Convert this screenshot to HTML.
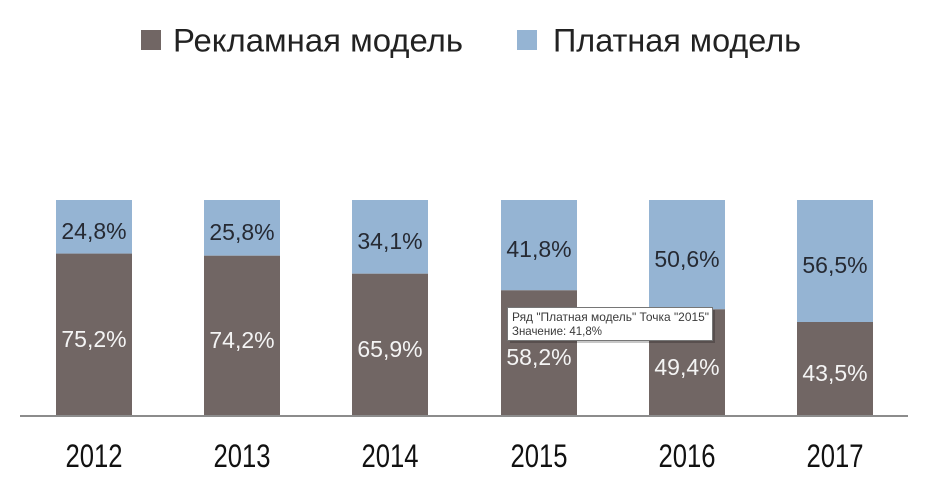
<!DOCTYPE html>
<html><head><meta charset="utf-8"><style>
html,body{margin:0;padding:0;background:#fff;}
svg{display:block;}
</style></head><body>
<svg width="927" height="484" viewBox="0 0 927 484" xmlns="http://www.w3.org/2000/svg" font-family="'Liberation Sans', 'Noto Sans CJK SC', sans-serif">
<rect x="0" y="0" width="927" height="484" fill="#fff"/>
<!-- Legend -->
<rect x="141" y="30" width="20" height="20" fill="#716664"/>
<text x="173" y="51.5" font-size="32" fill="#222" textLength="290" lengthAdjust="spacingAndGlyphs">Рекламная модель</text>
<rect x="517" y="30" width="20" height="20" fill="#95b4d3"/>
<text x="553" y="51.5" font-size="32" fill="#222" textLength="248" lengthAdjust="spacingAndGlyphs">Платная модель</text>

<!-- Bars -->
<g>
<rect x="56" y="200" width="76" height="53.6" fill="#95b4d3"/>
<rect x="56" y="253.6" width="76" height="162.4" fill="#716664"/>
<rect x="204" y="200" width="76" height="55.7" fill="#95b4d3"/>
<rect x="204" y="255.7" width="76" height="160.3" fill="#716664"/>
<rect x="352" y="200" width="76" height="73.7" fill="#95b4d3"/>
<rect x="352" y="273.7" width="76" height="142.3" fill="#716664"/>
<rect x="501" y="200" width="76" height="90.3" fill="#95b4d3"/>
<rect x="501" y="290.3" width="76" height="125.7" fill="#716664"/>
<rect x="649" y="200" width="76" height="109.3" fill="#95b4d3"/>
<rect x="649" y="309.3" width="76" height="106.7" fill="#716664"/>
<rect x="797" y="200" width="76" height="122" fill="#95b4d3"/>
<rect x="797" y="322" width="76" height="94" fill="#716664"/>
</g>

<!-- Axis -->
<rect x="20" y="415" width="888" height="2" fill="#8c8c8c"/>

<!-- Data labels -->
<g font-size="23" text-anchor="middle">
<g fill="#262a33">
<text x="94" y="239">24,8%</text>
<text x="242" y="240">25,8%</text>
<text x="390" y="249">34,1%</text>
<text x="539" y="257">41,8%</text>
<text x="687" y="267">50,6%</text>
<text x="835" y="273">56,5%</text>
</g>
<g fill="#f4f4f4">
<text x="94" y="347">75,2%</text>
<text x="242" y="348">74,2%</text>
<text x="390" y="357">65,9%</text>
<text x="539" y="365">58,2%</text>
<text x="687" y="375">49,4%</text>
<text x="835" y="381">43,5%</text>
</g>
</g>

<!-- Year labels -->
<g font-size="32" fill="#111" text-anchor="middle">
<text x="94" y="467" textLength="57" lengthAdjust="spacingAndGlyphs">2012</text>
<text x="242" y="467" textLength="57" lengthAdjust="spacingAndGlyphs">2013</text>
<text x="390" y="467" textLength="57" lengthAdjust="spacingAndGlyphs">2014</text>
<text x="539" y="467" textLength="57" lengthAdjust="spacingAndGlyphs">2015</text>
<text x="687" y="467" textLength="57" lengthAdjust="spacingAndGlyphs">2016</text>
<text x="835" y="467" textLength="57" lengthAdjust="spacingAndGlyphs">2017</text>
</g>

<!-- Tooltip -->
<rect x="510" y="310" width="205" height="33" fill="#000" opacity="0.22"/>
<rect x="507.5" y="307.5" width="205" height="33" fill="#fff" stroke="#767676" stroke-width="1"/>
<text x="512" y="321" font-size="12" fill="#3a3a3a" textLength="197" lengthAdjust="spacingAndGlyphs">Ряд "Платная модель" Точка "2015"</text>
<text x="512" y="335" font-size="12" fill="#3a3a3a" textLength="90" lengthAdjust="spacingAndGlyphs">Значение: 41,8%</text>
</svg>
</body></html>
